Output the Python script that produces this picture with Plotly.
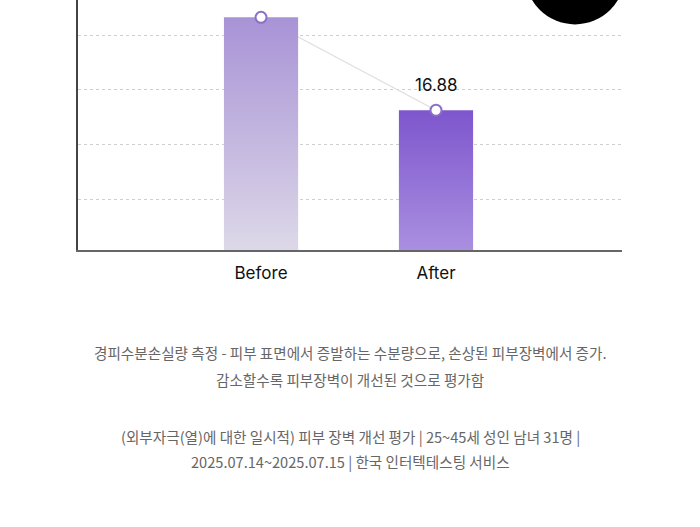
import plotly.graph_objects as go

categories = ["Before", "After"]
values = [21.97, 16.88]
value_labels = ["", "16.88"]  # the Before label sits above the visible area
top_colors = ["#a893d6", "#7e56cd"]
bottom_colors = ["#ddd8e8", "#a98fe0"]
notes = [
    "경피수분손실량 측정 - 피부 표면에서 증발하는 수분량으로, 손상된 피부장벽에서 증가.",
    "감소할수록 피부장벽이 개선된 것으로 평가함",
    "(외부자극(열)에 대한 일시적) 피부 장벽 개선 평가 | 25~45세 성인 남녀 31명 |",
    "2025.07.14~2025.07.15 | 한국 인터텍테스팅 서비스",
]
note_y = [352, 379, 436, 462]

W, H = 700, 527
L, R, T, B = 78, 78, 0, 277
PH = H - T - B
Y_MIN, Y_MAX = 9.22, 22.92
X_MIN, X_MAX = -1.046, 2.063
BAR_HALF = 0.212
FONT = "Inter, 'Noto Sans CJK KR', sans-serif"
KFONT = "'Noto Sans CJK KR', Inter, sans-serif"

xs = list(range(len(categories)))
fig = go.Figure()

# connecting line (behind bars)
fig.add_trace(go.Scatter(x=xs, y=values, mode="lines",
                         line=dict(color="#dedede", width=1.2),
                         hoverinfo="skip", showlegend=False))

# gradient bars
for i, v in enumerate(values):
    x0, x1 = xs[i] - BAR_HALF, xs[i] + BAR_HALF
    fig.add_trace(go.Scatter(
        x=[x0, x0, x1, x1, x0], y=[Y_MIN, v, v, Y_MIN, Y_MIN],
        mode="lines", line=dict(width=0), fill="toself",
        fillgradient=dict(type="vertical", start=Y_MIN, stop=v,
                          colorscale=[[0, bottom_colors[i]], [1, top_colors[i]]]),
        hoverinfo="skip", showlegend=False))

# markers on top
fig.add_trace(go.Scatter(x=xs, y=values, mode="markers",
                         marker=dict(size=11, color="white",
                                     line=dict(color="#8a70c6", width=2)),
                         cliponaxis=False, showlegend=False))

for i, v in enumerate(values):
    if value_labels[i]:
        fig.add_annotation(x=xs[i], y=v, text=value_labels[i], showarrow=False,
                           yanchor="bottom", yshift=13,
                           font=dict(family=FONT, size=17, color="#111111"))

def py(p):
    return (H - B - p) / PH

for txt, yy in zip(notes, note_y):
    fig.add_annotation(x=0.5, xref="paper", y=py(yy), yref="paper",
                       text=txt, showarrow=False, yanchor="middle",
                       font=dict(family=KFONT, size=14.6, color="#666666"))

# black badge circle (partly off canvas)
cx, cy, r = 575, -25.6, 50
fig.add_shape(type="circle", xref="paper", yref="paper",
              x0=(cx - r - L) / (W - L - R), x1=(cx + r - L) / (W - L - R),
              y0=py(cy + r), y1=py(cy - r),
              fillcolor="black", line=dict(width=0), layer="above")

fig.update_layout(
    width=W, height=H, margin=dict(l=L, r=R, t=T, b=B),
    paper_bgcolor="white", plot_bgcolor="white",
    font=dict(family=FONT),
    xaxis=dict(range=[X_MIN, X_MAX], tickvals=xs, ticktext=categories,
               showgrid=False, zeroline=False, showline=True,
               linecolor="#666666", linewidth=2, ticks="",
               ticklabelstandoff=7,
               tickfont=dict(family=FONT, size=17, color="#111111")),
    yaxis=dict(range=[Y_MIN, Y_MAX], tick0=0, dtick=3, showticklabels=False,
               showgrid=True, gridcolor="#cfcfcf", griddash="dot", gridwidth=1,
               zeroline=False, showline=True, linecolor="#444444", linewidth=1.5),
    showlegend=False,
)

fig.write_html("out.html")
